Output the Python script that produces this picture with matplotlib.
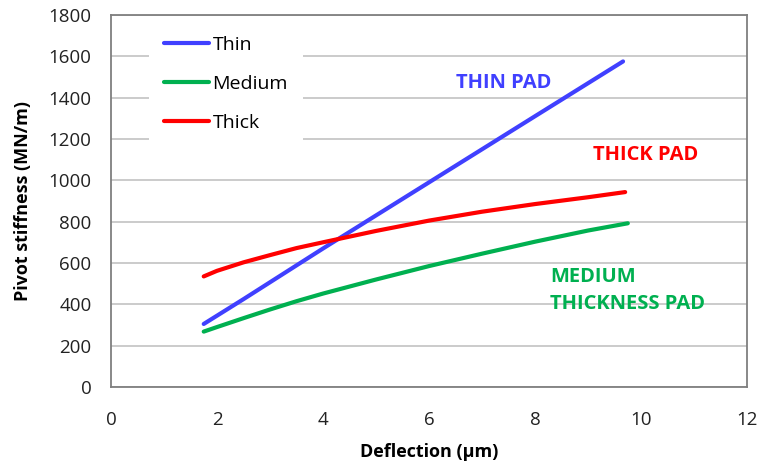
import matplotlib
matplotlib.use("Agg")
import matplotlib.pyplot as plt

plt.rcParams['font.family'] = ['Open Sans', 'DejaVu Sans']

# Pivot stiffness vs deflection for three pad thicknesses
thin_x = [1.75, 2.5, 4.0, 6.0, 8.0, 9.66]
thin_y = [305, 425, 670, 990, 1310, 1575]

medium_x = [1.75, 2.0, 2.5, 3.0, 3.5, 4.0, 5.0, 6.0, 7.0, 8.0, 9.0, 9.75]
medium_y = [268, 290, 333, 375, 415, 452, 520, 585, 645, 703, 757, 792]

thick_x = [1.75, 2.0, 2.5, 3.0, 3.5, 4.0, 5.0, 6.0, 7.0, 8.0, 9.0, 9.7]
thick_y = [535, 562, 603, 638, 672, 700, 755, 805, 848, 885, 918, 943]

series_labels = ["Thin", "Medium", "Thick"]
x_ticks = [0, 2, 4, 6, 8, 10, 12]
y_ticks = [0, 200, 400, 600, 800, 1000, 1200, 1400, 1600, 1800]

BLUE = "#4040FF"
GREEN = "#00B050"
RED = "#FF0000"

fig = plt.figure(figsize=(7.6, 4.66), dpi=100)
ax = fig.add_axes([0.146, 0.1695, 0.837, 0.7985])

lw = 3.0
ax.plot(thin_x, thin_y, color=BLUE, lw=lw, label=series_labels[0], solid_capstyle='round')
ax.plot(medium_x, medium_y, color=GREEN, lw=lw, label=series_labels[1], solid_capstyle='round')
ax.plot(thick_x, thick_y, color=RED, lw=lw, label=series_labels[2], solid_capstyle='round')

ax.set_xlim(0, 12)
ax.set_ylim(0, 1800)
ax.set_xticks(x_ticks)
ax.set_yticks(y_ticks)
ax.tick_params(axis='both', length=0, labelsize=13.5, colors='#222222')
ax.tick_params(axis='x', pad=17)
ax.tick_params(axis='y', pad=14)

ax.grid(axis='y', color='#BDBDBD', lw=1.1)
ax.set_axisbelow(True)
for s in ax.spines.values():
    s.set_color('#7F7F7F')
    s.set_linewidth(1.3)

ax.set_xlabel("Deflection (\u00b5m)", fontsize=13, fontweight='bold', labelpad=10)
ax.set_ylabel("Pivot stiffness (MN/m)", fontsize=13, fontweight='bold', labelpad=12)

leg = ax.legend(loc='upper left', bbox_to_anchor=(0.045, 1.008), fontsize=14,
                frameon=True, facecolor='white', edgecolor='none', framealpha=1,
                fancybox=False, handlelength=2.3, handletextpad=0.2,
                labelspacing=1.08, borderpad=0.75)
leg.get_frame().set_linewidth(0)

ax.text(6.5, 1470, "THIN PAD", color=BLUE, fontsize=14.5, fontweight='bold', va='center')
ax.text(9.1, 1122, "THICK PAD", color=RED, fontsize=14.5, fontweight='bold', va='center')
ax.text(8.28, 467, "MEDIUM\nTHICKNESS PAD", color=GREEN, fontsize=14.5, fontweight='bold',
        va='center', linespacing=1.45)

fig.savefig("out.png", dpi=100)
